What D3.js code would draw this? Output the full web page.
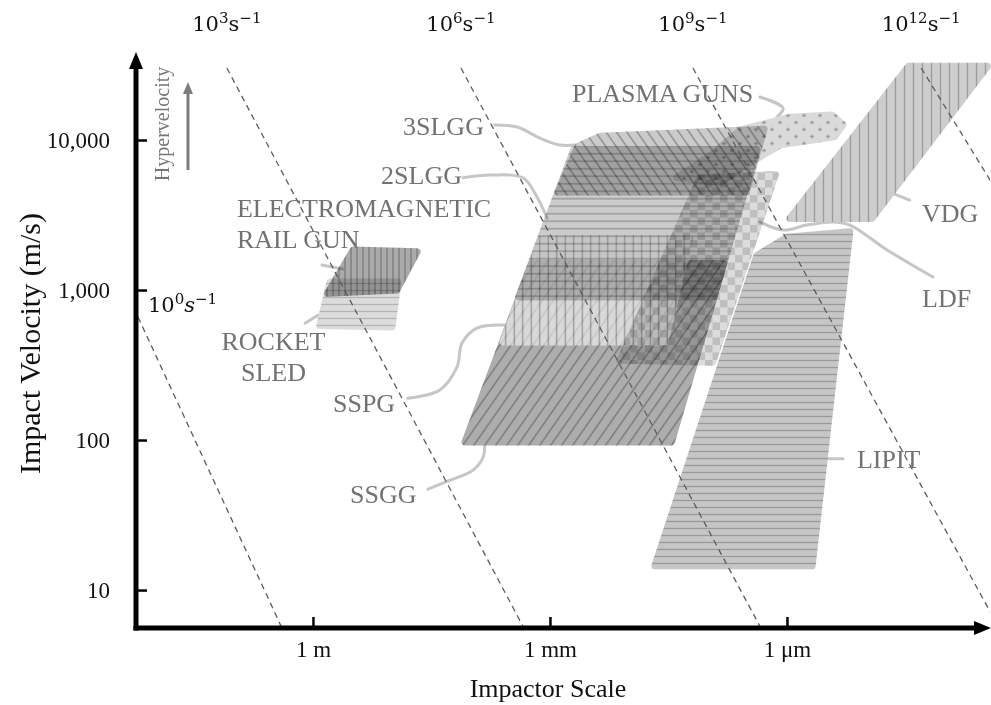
<!DOCTYPE html>
<html><head><meta charset="utf-8">
<script src="https://cdn.jsdelivr.net/npm/d3@7"></script>
<style>
html,body{margin:0;padding:0;background:#fff;}
svg{display:block;background:#fff;}
</style></head><body>
<svg id="chart" width="991" height="705"></svg>
<script>
// ---------------- data (impactor scale in metres, velocity in m/s) ----------------
const yTickValues = [10, 100, 1000, 10000];
const xTickValues = [1, 1e-3, 1e-6];
const xTickLabels = ["1 m", "1 mm", "1 μm"];

const rateExponents = ["0", "3", "6", "9", "12"];
const rateStart = [[164, 661], [12.3, 30200], [0.0134, 30200], [1.55e-5, 30200], [2.0e-8, 30200]];
const rateEnd   = [[2.4, 5.4], [2.07e-3, 5.4], [2.07e-6, 5.4], [2.0e-9, 5.4], [2.0e-9, 4200]];

const ssgg   = [[0.0119, 97], [2.9e-5, 97], [6.3e-6, 1500], [1.7e-3, 1500]];
const sspg   = [[3.9e-3, 450], [3.5e-5, 450], [1.7e-5, 2200], [1.3e-3, 2200]];
const slgg2  = [[2.5e-3, 900], [8.4e-6, 900], [2.4e-6, 8600], [5.0e-4, 8600]];
const slgg3  = [[7.9e-4, 4500], [3.3e-6, 4500], [1.95e-6, 11800], [2.3e-4, 10600], [4.4e-4, 9100]];
const ldf    = [[1.26e-5, 5600], [1.4e-6, 5900], [8.7e-6, 330], [1.3e-4, 340]];
const plasma = [[2.5e-5, 5600], [9e-6, 8000], [3.9e-6, 11700], [9.2e-7, 14200], [2.7e-7, 14700],
                [1.95e-7, 12600], [2.5e-7, 10500], [1.2e-6, 9300], [2.5e-6, 7400], [7.0e-6, 5200]];
const lipit  = [[2.4e-6, 1700], [1.0e-6, 2250], [1.6e-7, 2450], [4.8e-7, 14.5], [4.7e-5, 14.5]];
const vdg    = [[9.2e-7, 3000], [8.4e-8, 3000], [2.9e-9, 31000], [2.9e-8, 31000]];
const sled   = [[0.82, 580], [0.1, 566], [0.084, 1130], [0.61, 1130]];
const railgun= [[0.65, 950], [0.087, 1000], [0.048, 1800], [0.31, 1850]];

const labelText = [["3SLGG"], ["2SLGG"], ["ELECTROMAGNETIC", "RAIL GUN"], ["ROCKET", "SLED"], ["SSPG"], ["SSGG"],
                   ["PLASMA GUNS"], ["VDG"], ["LDF"], ["LIPIT"]];
const labelAt = [[6.85e-3, 10800], [1.3e-2, 5090], [9.16, 3070], [3.16, 398], [0.558, 154], [0.34, 38],
                 [5.27e-4, 17900], [1.95e-8, 2840], [1.95e-8, 770], [1.3e-7, 65]];
const leaders = [
  [[5e-3, 12600], [2.6e-3, 12200], [1.34e-3, 10300], [7.5e-4, 9260], [4.8e-4, 9260]],
  [[0.0126, 5600], [5.7e-3, 5840], [2.2e-3, 5600], [1.46e-3, 4170], [1.09e-3, 3020]],
  [[0.77, 1470], [0.42, 1380]],
  [[1.26, 600], [0.865, 680]],
  [[0.063, 190], [0.025, 215], [0.015, 307], [0.013, 443], [8.4e-3, 558], [3.7e-3, 584]],
  [[0.035, 47], [0.0184, 54], [9.4e-3, 63], [7e-3, 77], [6.7e-3, 97]],
  [[2.2e-6, 19350], [1.12e-6, 16300], [1.34e-6, 14200]],
  [[4.7e-8, 4430], [2.8e-8, 3980]],
  [[1.42e-8, 1220], [5.4e-8, 1850], [1.6e-7, 2710], [2.6e-7, 2840], [5.6e-7, 2710], [1.12e-6, 2510], [2.2e-6, 2840]],
  [[3.6e-7, 75], [1.95e-7, 75]]
];
const hyperArrow = [[38.2, 6310], [38.2, 24400]];
const hyperTextAt = [66.5, 12800];

// ---------------- styles ----------------
const labelAnchor = ["end", "end", "start", "middle", "start", "start", "start", "start", "start", "start"];
const shapeOrder = [
  {pts: ssgg,    pat: "p-ssgg",   blend: "normal",   op: 1},
  {pts: sspg,    pat: "p-sspg",   blend: "normal",   op: 0.62},
  {pts: plasma,  pat: "p-plasma", blend: "normal",   op: 1},
  {pts: slgg2,   pat: "p-2slgg",  blend: "multiply", op: 1},
  {pts: slgg3,   pat: "p-3slgg",  blend: "multiply", op: 1},
  {pts: ldf,     pat: "p-ldf",    blend: "multiply", op: 1},
  {pts: lipit,   pat: "p-lipit",  blend: "normal",   op: 1},
  {pts: vdg,     pat: "p-vdg",    blend: "normal",   op: 1},
  {pts: sled,    pat: "p-sled",   blend: "normal",   op: 1},
  {pts: railgun, pat: "p-rail",   blend: "multiply", op: 1}
];

const svg = d3.select("#chart");
const x = d3.scaleLog().domain([Math.pow(10, 2.24), Math.pow(10, -8.57)]).range([136, 990]);
const y = d3.scaleLog().domain([Math.pow(10, 0.747), Math.pow(10, 4.58)]).range([628, 53]);
const X0 = x.range()[0], X1 = x.range()[1], Y0 = y.range()[0], Y1 = y.range()[1];

const defs = svg.append("defs");
function linePattern(id, spacing, angle, bg, fg, lw) {
  const p = defs.append("pattern").attr("id", id).attr("patternUnits", "userSpaceOnUse")
    .attr("width", spacing).attr("height", spacing).attr("patternTransform", `rotate(${angle})`);
  p.append("rect").attr("width", spacing).attr("height", spacing).attr("fill", bg);
  p.append("line").attr("x1", spacing / 2).attr("x2", spacing / 2).attr("y1", -1).attr("y2", spacing + 1)
    .attr("stroke", fg).attr("stroke-width", lw);
}
function checkerPattern(id, cell, light, dark) {
  const p = defs.append("pattern").attr("id", id).attr("patternUnits", "userSpaceOnUse")
    .attr("width", cell * 2).attr("height", cell * 2);
  p.append("rect").attr("width", cell * 2).attr("height", cell * 2).attr("fill", light);
  p.append("rect").attr("width", cell).attr("height", cell).attr("fill", dark);
  p.append("rect").attr("x", cell).attr("y", cell).attr("width", cell).attr("height", cell).attr("fill", dark);
}
function starPattern(id, w, h, bg, fg) {
  const p = defs.append("pattern").attr("id", id).attr("patternUnits", "userSpaceOnUse").attr("width", w).attr("height", h);
  p.append("rect").attr("width", w).attr("height", h).attr("fill", bg);
  [[w * 0.25, h * 0.25], [w * 0.75, h * 0.75]].forEach(([cx, cy]) => {
    p.append("path").attr("d", `M${cx-2},${cy}H${cx+2}M${cx},${cy-2}V${cy+2}M${cx-1.4},${cy-1.4}L${cx+1.4},${cy+1.4}M${cx-1.4},${cy+1.4}L${cx+1.4},${cy-1.4}`)
      .attr("stroke", fg).attr("stroke-width", 0.8);
  });
}
linePattern("p-ssgg", 9, 35, "#adadad", "#747474", 1.3);
linePattern("p-sspg", 8.5, 0, "#f4f4f4", "#8c8c8c", 1.3);
linePattern("p-2slgg", 7.5, 90, "#cbcbcb", "#929292", 1.3);
linePattern("p-3slgg", 8.5, -35, "#cbcbcb", "#858585", 1.3);
checkerPattern("p-ldf", 7.5, "#dcdcdc", "#bfbfbf");
starPattern("p-plasma", 16, 14, "#dadada", "#9a9a9a");
linePattern("p-lipit", 7, 90, "#c6c6c6", "#9a9a9a", 1.3);
linePattern("p-vdg", 9, 0, "#cdcdcd", "#9b9b9b", 1.3);
linePattern("p-sled", 7, 90, "#dcdcdc", "#b4b4b4", 1.3);
linePattern("p-rail", 6, 0, "#aaaaaa", "#747474", 1.2);

defs.append("clipPath").attr("id", "plotClip").append("rect")
  .attr("x", X0).attr("y", Y1).attr("width", X1 - X0).attr("height", Y0 - Y1);

const serif = "'Liberation Serif', 'Times New Roman', serif";

// leader lines (beneath shapes)
const curve = d3.line().x(d => x(d[0])).y(d => y(d[1])).curve(d3.curveCatmullRom.alpha(0.5));
svg.append("g").selectAll("path").data(leaders).join("path")
  .attr("d", curve).attr("fill", "none").attr("stroke", "#c6c6c6").attr("stroke-width", 3).attr("stroke-linecap", "round");

// shapes
const poly = d3.line().x(d => x(d[0])).y(d => y(d[1])).curve(d3.curveLinearClosed);
const gShapes = svg.append("g");
shapeOrder.forEach(s => {
  const g = gShapes.append("g").attr("opacity", s.op).style("mix-blend-mode", s.blend);
  g.append("path").attr("d", poly(s.pts))
    .attr("fill", `url(#${s.pat})`).attr("stroke", `url(#${s.pat})`)
    .attr("stroke-width", 7).attr("stroke-linejoin", "round");
});

// strain-rate lines
const gRates = svg.append("g").attr("clip-path", "url(#plotClip)");
rateExponents.forEach((e, i) => {
  gRates.append("line")
    .attr("x1", x(rateStart[i][0])).attr("y1", y(rateStart[i][1]))
    .attr("x2", x(rateEnd[i][0])).attr("y2", y(rateEnd[i][1]))
    .attr("stroke", "#5c5c5c").attr("stroke-width", 1.3).attr("stroke-dasharray", "6,4.5");
});
rateExponents.forEach((e, i) => {
  const first = i === 0;
  const t = svg.append("text")
    .attr("x", first ? x(rateStart[i][0]) + 10 : x(rateStart[i][0]))
    .attr("y", first ? y(rateStart[i][1]) - 5 : 31)
    .attr("text-anchor", first ? "start" : "middle")
    .attr("font-family", "'DejaVu Serif', serif").attr("font-size", 21).attr("fill", "#111");
  t.append("tspan").text("10");
  t.append("tspan").attr("font-size", 15).attr("dy", -8).text(e);
  t.append("tspan").attr("dy", 8).attr("font-style", first ? "italic" : "normal").text("s");
  t.append("tspan").attr("font-size", 15).attr("dy", -8).text("−1");
});

// method labels
const gLab = svg.append("g").attr("font-family", serif).attr("font-size", 26).attr("fill", "#727272");
labelText.forEach((lines, i) => {
  const t = gLab.append("text").attr("text-anchor", labelAnchor[i])
    .attr("x", x(labelAt[i][0])).attr("y", y(labelAt[i][1]));
  lines.forEach((ln, j) => {
    t.append("tspan").attr("x", x(labelAt[i][0])).attr("dy", j === 0 ? 0 : 31).text(ln);
  });
});

// hypervelocity arrow
const hx = x(hyperArrow[0][0]), hy0 = y(hyperArrow[0][1]), hy1 = y(hyperArrow[1][1]);
svg.append("line").attr("x1", hx).attr("x2", hx).attr("y1", hy0).attr("y2", hy1 + 10)
  .attr("stroke", "#7d7d7d").attr("stroke-width", 3);
svg.append("path").attr("d", `M${hx},${hy1}L${hx - 5},${hy1 + 12}L${hx + 5},${hy1 + 12}Z`).attr("fill", "#7d7d7d");
svg.append("text").attr("transform", `translate(${x(hyperTextAt[0])},${y(hyperTextAt[1])}) rotate(-90)`)
  .attr("text-anchor", "middle").attr("font-family", serif).attr("font-size", 20).attr("fill", "#777")
  .text("Hypervelocity");

// axes
const yAxis = d3.axisLeft(y).tickValues(yTickValues).tickFormat(d3.format(",")).tickSize(-11).tickPadding(26);
const gy = svg.append("g").attr("transform", `translate(${X0},0)`).call(yAxis);
gy.select(".domain").remove();
gy.selectAll(".tick line").attr("stroke", "#000").attr("stroke-width", 2.5);
gy.selectAll(".tick text").attr("font-family", serif).attr("font-size", 23).attr("fill", "#111");

const xAxis = d3.axisBottom(x).tickValues(xTickValues).tickFormat((d, i) => xTickLabels[i]).tickSize(-11).tickPadding(13);
const gx = svg.append("g").attr("transform", `translate(0,${Y0})`).call(xAxis);
gx.select(".domain").remove();
gx.selectAll(".tick line").attr("stroke", "#000").attr("stroke-width", 2.5);
gx.selectAll(".tick text").attr("font-family", serif).attr("font-size", 23).attr("fill", "#111");

// thick axis lines with arrows
svg.append("line").attr("x1", X0).attr("x2", X0).attr("y1", Y0 + 2.5).attr("y2", Y1 + 12)
  .attr("stroke", "#000").attr("stroke-width", 5);
svg.append("path").attr("d", `M${X0},${Y1 - 1}L${X0 - 7},${Y1 + 16}L${X0 + 7},${Y1 + 16}Z`).attr("fill", "#000");
svg.append("line").attr("x1", X0 - 2.5).attr("x2", X1 - 12).attr("y1", Y0).attr("y2", Y0)
  .attr("stroke", "#000").attr("stroke-width", 5);
svg.append("path").attr("d", `M${X1 + 1},${Y0}L${X1 - 16},${Y0 - 7}L${X1 - 16},${Y0 + 7}Z`).attr("fill", "#000");

// axis titles
svg.append("text").attr("transform", `translate(40,${(Y0 + Y1) / 2 + 3}) rotate(-90)`)
  .attr("text-anchor", "middle").attr("font-family", serif).attr("font-size", 30).attr("fill", "#111")
  .text("Impact Velocity (m/s)");
svg.append("text").attr("x", x(1e-3) - 2).attr("y", 697)
  .attr("text-anchor", "middle").attr("font-family", serif).attr("font-size", 26).attr("fill", "#111")
  .text("Impactor Scale");
</script>
</body></html>
